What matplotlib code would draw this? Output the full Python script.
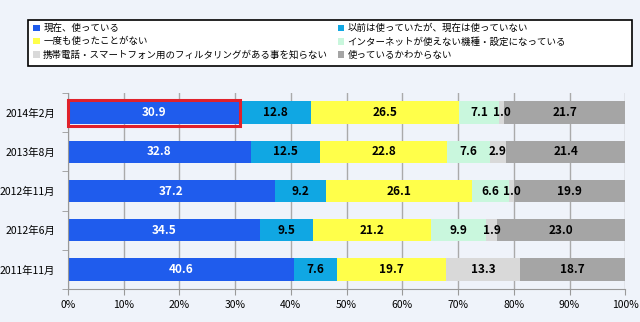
import matplotlib.pyplot as plt
from matplotlib.patches import Rectangle, Patch

plt.rcParams['font.family'] = ['Liberation Sans Narrow', 'Noto Sans CJK JP', 'DejaVu Sans']

periods = ['2014年2月', '2013年8月', '2012年11月', '2012年6月', '2011年11月']
series_names = [
    '現在、使っている',
    '以前は使っていたが、現在は使っていない',
    '一度も使ったことがない',
    'インターネットが使えない機種・設定になっている',
    '携帯電話・スマートフォン用のフィルタリングがある事を知らない',
    '使っているかわからない',
]
using_now = [30.9, 32.8, 37.2, 34.5, 40.6]
used_before = [12.8, 12.5, 9.2, 9.5, 7.6]
never_used = [26.5, 22.8, 26.1, 21.2, 19.7]
no_internet = [7.1, 7.6, 6.6, 9.9, 0.0]
not_aware = [1.0, 2.9, 1.0, 1.9, 13.3]
unknown = [21.7, 21.4, 19.9, 23.0, 18.7]
xticks = [0, 10, 20, 30, 40, 50, 60, 70, 80, 90, 100]

series = [using_now, used_before, never_used, no_internet, not_aware, unknown]
colors = ['#1f5ced', '#10a7e3', '#ffff4a', '#c9f7dd', '#d9d9d9', '#a5a5a5']
text_colors = ['white', 'black', 'black', 'black', 'black', 'black']

fig = plt.figure(figsize=(6.4, 3.22), dpi=100)
fig.patch.set_facecolor('#eff3fa')
ax = fig.add_axes([0.106, 0.1025, 0.871, 0.6085])
ax.set_facecolor('#eff3fa')

y = list(range(len(periods)))
left = [0.0] * len(periods)
for vals, col, tc in zip(series, colors, text_colors):
    ax.barh(y, vals, left=left, height=0.57, color=col, zorder=2)
    for yi, (l, v) in enumerate(zip(left, vals)):
        if v > 0:
            ax.text(l + v / 2, yi, f'{v:.1f}', ha='center', va='center',
                    color=tc, fontsize=8.5, fontweight='bold', zorder=3)
    left = [l + v for l, v in zip(left, vals)]

# highlight box around the latest "using now" bar
ax.add_patch(Rectangle((0, -0.33), using_now[0], 0.66, fill=False,
                       edgecolor='#e0212b', linewidth=2.2, zorder=4, clip_on=False))

ax.set_xlim(0, 100)
ax.set_ylim(len(periods) - 0.5, -0.5)
ax.set_xticks(xticks)
ax.set_xticklabels([f'{t}%' for t in xticks], fontsize=7.5)
ax.set_yticks(y)
ax.set_yticklabels(periods, fontsize=7.5)
ax.set_yticks([i + 0.5 for i in range(-1, len(periods))], minor=True)
ax.tick_params(axis='y', which='major', length=0, pad=9)
ax.tick_params(axis='y', which='minor', length=4, color='#999999')
ax.tick_params(axis='x', length=4, color='#999999', pad=4)
ax.grid(axis='x', color='#aaaaaa', linewidth=1, zorder=0)
for side in ['top', 'right']:
    ax.spines[side].set_visible(False)
for side in ['left', 'bottom']:
    ax.spines[side].set_color('#999999')

# legend box drawn by hand so the second column sits where the original has it
fig.patches.append(Rectangle((0.044, 0.795), 0.9435, 0.143, transform=fig.transFigure,
                             facecolor='white', edgecolor='black', linewidth=1.2, zorder=0))
handles = [Patch(facecolor=c, edgecolor='none') for c in colors]
order = [0, 2, 4, 1, 3, 5]
leg = fig.legend([handles[i] for i in order], [series_names[i] for i in order],
                 loc='upper left', bbox_to_anchor=(0.052, 0.926),
                 ncol=2, fontsize=6.8, frameon=False,
                 handlelength=0.7, handleheight=0.7, handletextpad=0.35,
                 labelspacing=0.42, columnspacing=1.0, borderpad=0, borderaxespad=0)

fig.savefig('out.png', dpi=100, facecolor=fig.get_facecolor())
